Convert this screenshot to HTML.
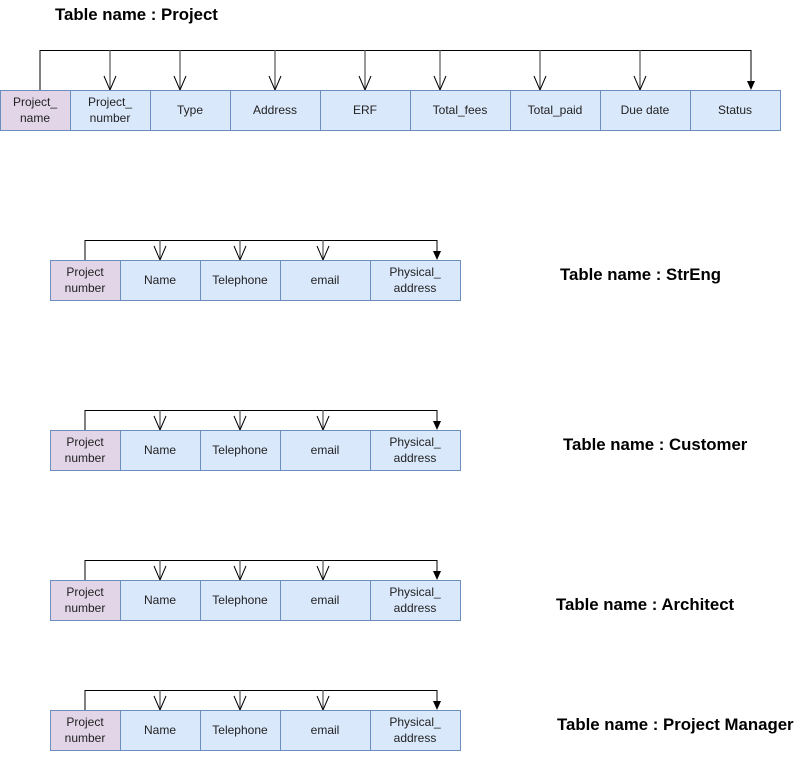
<!DOCTYPE html>
<html><head><meta charset="utf-8"><style>
body{margin:0;background:#fff;}
svg text{font-family:"Liberation Sans",Arial,sans-serif;}
.c{font-size:12px;fill:#222;text-anchor:middle;}
.t{font-size:16.8px;font-weight:bold;fill:#000;}
</style></head><body>
<svg width="807" height="752" xmlns="http://www.w3.org/2000/svg">
<defs>
<g id="oa"><line x1="0" y1="0" x2="0" y2="40" stroke="#555" stroke-width="1.2"/><polyline points="-6,26 0,40 6,26" fill="none" stroke="#000" stroke-width="1"/></g>
<g id="oa2"><line x1="0" y1="0" x2="0" y2="20" stroke="#555" stroke-width="1.2"/><polyline points="-6,6 0,20 6,6" fill="none" stroke="#000" stroke-width="1"/></g>
<g id="sub">
<line x1="85" y1="240" x2="85" y2="260" stroke="#000"/>
<line x1="85" y1="240.5" x2="437" y2="240.5" stroke="#000"/>
<use href="#oa2" x="160" y="240"/><use href="#oa2" x="240" y="240"/><use href="#oa2" x="323" y="240"/>
<line x1="437" y1="240" x2="437" y2="253" stroke="#000"/><polygon points="433,251 441,251 437,260" fill="#000"/>
<rect x="50.5" y="260.5" width="70" height="40" fill="#e1d5e7" stroke="#6c8ebf"/>
<rect x="120.5" y="260.5" width="80" height="40" fill="#dae8fc" stroke="#6c8ebf"/>
<rect x="200.5" y="260.5" width="80" height="40" fill="#dae8fc" stroke="#6c8ebf"/>
<rect x="280.5" y="260.5" width="90" height="40" fill="#dae8fc" stroke="#6c8ebf"/>
<rect x="370.5" y="260.5" width="90" height="40" fill="#dae8fc" stroke="#6c8ebf"/>
<text class="c" x="85" y="276">Project</text><text class="c" x="85" y="292">number</text>
<text class="c" x="160" y="284">Name</text>
<text class="c" x="240" y="284">Telephone</text>
<text class="c" x="325" y="284">email</text>
<text class="c" x="415" y="276">Physical_</text><text class="c" x="415" y="292">address</text>
</g>
</defs>
<text class="t" x="55" y="20">Table name : Project</text>
<line x1="40" y1="50" x2="40" y2="90" stroke="#000"/>
<line x1="40" y1="50.5" x2="751" y2="50.5" stroke="#000"/>
<use href="#oa" x="110" y="50"/><use href="#oa" x="180" y="50"/><use href="#oa" x="275" y="50"/><use href="#oa" x="365" y="50"/><use href="#oa" x="440" y="50"/><use href="#oa" x="540" y="50"/><use href="#oa" x="640" y="50"/>
<line x1="751" y1="50" x2="751" y2="83" stroke="#000"/><polygon points="747,81 755,81 751,90" fill="#000"/>
<rect x="0.5" y="90.5" width="70" height="40" fill="#e1d5e7" stroke="#6c8ebf"/>
<rect x="70.5" y="90.5" width="80" height="40" fill="#dae8fc" stroke="#6c8ebf"/>
<rect x="150.5" y="90.5" width="80" height="40" fill="#dae8fc" stroke="#6c8ebf"/>
<rect x="230.5" y="90.5" width="90" height="40" fill="#dae8fc" stroke="#6c8ebf"/>
<rect x="320.5" y="90.5" width="90" height="40" fill="#dae8fc" stroke="#6c8ebf"/>
<rect x="410.5" y="90.5" width="100" height="40" fill="#dae8fc" stroke="#6c8ebf"/>
<rect x="510.5" y="90.5" width="90" height="40" fill="#dae8fc" stroke="#6c8ebf"/>
<rect x="600.5" y="90.5" width="90" height="40" fill="#dae8fc" stroke="#6c8ebf"/>
<rect x="690.5" y="90.5" width="90" height="40" fill="#dae8fc" stroke="#6c8ebf"/>
<text class="c" x="35" y="106">Project_</text><text class="c" x="35" y="122">name</text>
<text class="c" x="110" y="106">Project_</text><text class="c" x="110" y="122">number</text>
<text class="c" x="190" y="114">Type</text>
<text class="c" x="275" y="114">Address</text>
<text class="c" x="365" y="114">ERF</text>
<text class="c" x="460" y="114">Total_fees</text>
<text class="c" x="555" y="114">Total_paid</text>
<text class="c" x="645" y="114">Due date</text>
<text class="c" x="735" y="114">Status</text>
<use href="#sub" x="0" y="0"/>
<use href="#sub" x="0" y="170"/>
<use href="#sub" x="0" y="320"/>
<use href="#sub" x="0" y="450"/>
<text class="t" x="560" y="280">Table name : StrEng</text>
<text class="t" x="563" y="450">Table name : Customer</text>
<text class="t" x="556" y="610">Table name : Architect</text>
<text class="t" x="557" y="730">Table name : Project Manager</text>
</svg>
</body></html>
